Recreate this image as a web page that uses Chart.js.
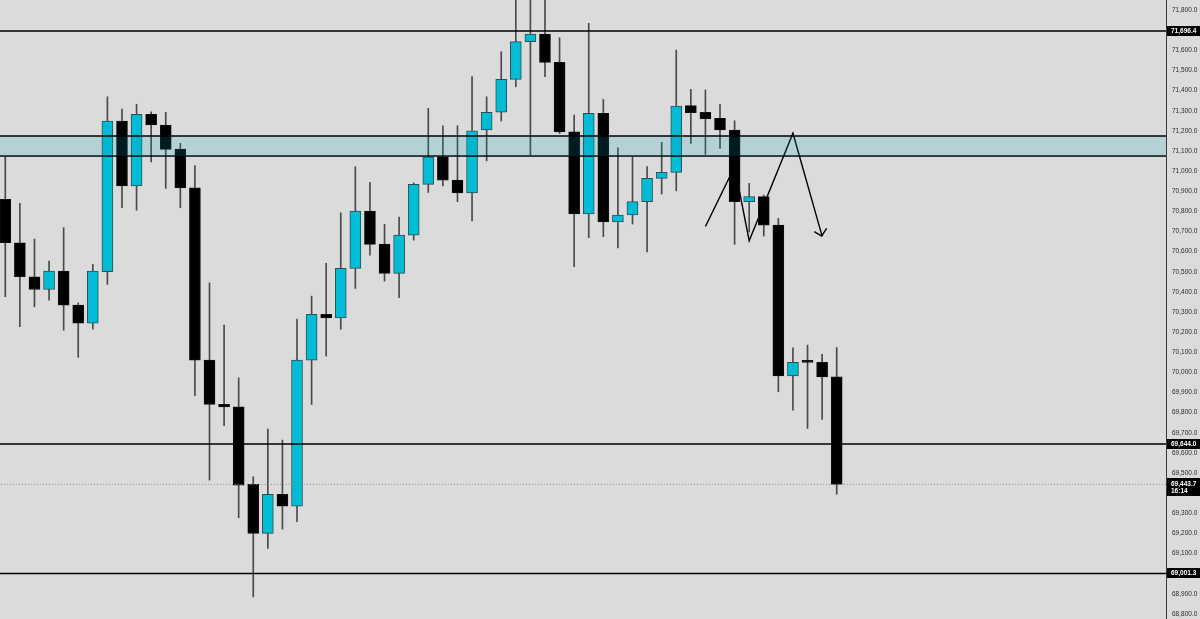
<!DOCTYPE html>
<html>
<head>
<meta charset="utf-8">
<script src="https://cdn.jsdelivr.net/npm/chart.js@4.4.1/dist/chart.umd.min.js"></script>
<style>
    html, body { margin: 0; padding: 0; background: #dbdbdb; }
    #wrap { width: 1200px; height: 619px; }
</style>
</head>
<body>
<div id="wrap"><canvas id="myChart" width="1200" height="619"></canvas></div>
<script>
// candle values (one entry per candle, left to right)
const opens = [70860, 70644, 70475, 70412, 70503, 70334, 70244, 70500, 71249, 70927,
    71282, 71229, 71109, 70917, 70061, 69841, 69829, 69444, 69200, 69394,
    69336, 70061, 70288, 70271, 70517, 70801, 70637, 70492, 70682, 70934,
    71071, 70955, 70892, 71204, 71293, 71456, 71643, 71681, 71540, 71195,
    70787, 71287, 70748, 70782, 70848, 70964, 70994, 71325, 71292, 71262,
    71204, 70848, 70873, 70732, 69982, 70053, 70050, 69978];
const highs = [71071, 70840, 70662, 70553, 70719, 70346, 70537, 71369, 71308, 71332,
    71295, 71292, 71138, 71027, 70445, 70235, 69973, 69482, 69718, 69664,
    70265, 70379, 70542, 70793, 71022, 70944, 70735, 70772, 70942, 71312,
    71225, 71225, 71469, 71369, 71593, 71900, 71900, 71900, 71662, 71278,
    71734, 71356, 71116, 71071, 71022, 71143, 71601, 71406, 71403, 71332,
    71250, 70939, 70881, 70765, 70122, 70136, 70090, 70124];
const lows = [70376, 70227, 70326, 70359, 70210, 70075, 70215, 70437, 70818, 70806,
    71046, 70914, 70818, 69884, 69465, 69735, 69278, 68885, 69126, 69222,
    69258, 69841, 70081, 70214, 70417, 70583, 70454, 70371, 70657, 70894,
    70926, 70848, 70752, 71051, 71249, 71419, 71080, 71469, 71187, 70525,
    70669, 70674, 70619, 70737, 70599, 70886, 70902, 71138, 71083, 71113,
    70636, 70697, 70677, 69904, 69813, 69722, 69767, 69395];
const closes = [70644, 70475, 70412, 70503, 70334, 70244, 70503, 71249, 70927, 71282,
    71229, 71108, 70917, 70061, 69841, 69829, 69440, 69200, 69394, 69336,
    70061, 70288, 70271, 70517, 70801, 70636, 70492, 70682, 70934, 71071,
    70955, 70892, 71200, 71292, 71456, 71643, 71681, 71540, 71195, 70787,
    71287, 70748, 70782, 70848, 70964, 70994, 71323, 71290, 71259, 71204,
    70848, 70873, 70732, 69982, 70050, 70050, 69978, 69443.7];

// horizontal levels and the supply zone
const levels = [71696.4, 69644.0, 69001.3];
const zone = [71075, 71174];
const lastPrice = 69443.7;
const lastTime = '16:14';

// hand drawn zigzag + arrow head (candle index, price)
const zigX = [48, 50, 51, 54, 56];
const zigY = [70725, 71022, 70654, 71188, 70677];
const arrowX = [55.46, 55.97, 56.31];
const arrowY = [70699, 70677, 70716];

const X_MIN = -0.363;
const X_MAX = 79.576;

const bull = '#00bcd4';
const bear = '#000000';

function fmt(v) {
    return v.toLocaleString('en-US', { minimumFractionDigits: 1, maximumFractionDigits: 1 });
}

var wicks = [];
var bodies = [];
var bodyColors = [];
var bodyBorders = [];
opens.forEach((o, i) => {
    wicks.push({ x: i, y: [lows[i], highs[i]] });
    bodies.push({ x: i, y: [o, closes[i]] });
    bodyColors.push(closes[i] >= o ? bull : bear);
    bodyBorders.push(closes[i] >= o ? '#2f4f55' : '#111111');
});

function flatLine(v) {
    return [{ x: X_MIN - 2, y: v }, { x: X_MAX + 2, y: v }];
}

var datasets = [];

// zone (fill between its two borders, drawn over the candles)
datasets.push({
    type: 'line', data: flatLine(zone[1]), borderColor: '#000', borderWidth: 1.5,
    pointRadius: 0, pointHoverRadius: 0, fill: '+1', backgroundColor: 'rgba(0, 161, 184, 0.17)', order: 0
});
datasets.push({
    type: 'line', data: flatLine(zone[0]), borderColor: '#000', borderWidth: 1.5,
    pointRadius: 0, pointHoverRadius: 0, fill: false, order: 0
});

levels.forEach(v => {
    datasets.push({
        type: 'line', data: flatLine(v), borderColor: '#000', borderWidth: 1.5,
        pointRadius: 0, pointHoverRadius: 0, fill: false, order: 0
    });
});

datasets.push({
    type: 'line', data: flatLine(lastPrice), borderColor: '#8a8a8a', borderWidth: 1,
    borderDash: [1, 2], pointRadius: 0, pointHoverRadius: 0, fill: false, order: 0
});

datasets.push({
    type: 'bar', data: bodies, backgroundColor: bodyColors, borderColor: bodyBorders,
    borderWidth: 1, borderSkipped: false, barThickness: 11, minBarLength: 2,
    grouped: false, order: 1
});
datasets.push({
    type: 'bar', data: wicks, backgroundColor: '#4a4a4a', borderWidth: 0,
    barThickness: 1, grouped: false, order: 2
});

datasets.push({
    type: 'line', data: zigX.map((x, i) => ({ x: x, y: zigY[i] })), borderColor: '#000',
    borderWidth: 1.4, pointRadius: 0, pointHoverRadius: 0, tension: 0, fill: false, order: 3
});
datasets.push({
    type: 'line', data: arrowX.map((x, i) => ({ x: x, y: arrowY[i] })), borderColor: '#000',
    borderWidth: 1.4, pointRadius: 0, pointHoverRadius: 0, tension: 0, fill: false, order: 3
});

// black price tags on the right scale
const priceTags = {
    id: 'priceTags',
    afterDraw(chart) {
        const c = chart.ctx;
        const y = chart.scales.y;
        const left = chart.chartArea.right + 1;
        const w = chart.width - left;
        c.save();
        c.font = 'bold 6.5px "Liberation Sans", Arial, sans-serif';
        c.textBaseline = 'middle';
        c.textAlign = 'left';
        levels.forEach(v => {
            const py = Math.round(y.getPixelForValue(v));
            c.fillStyle = '#000';
            c.fillRect(left, py - 5, w, 10);
            c.fillStyle = '#fff';
            c.fillText(fmt(v), left + 4, py);
        });
        const py = Math.round(y.getPixelForValue(lastPrice));
        c.fillStyle = '#000';
        c.fillRect(left, py - 6, w, 18);
        c.fillStyle = '#fff';
        c.fillText(fmt(lastPrice), left + 4, py);
        c.fillText(lastTime, left + 4, py + 7);
        c.restore();
    }
};

const ctx = document.getElementById('myChart').getContext('2d');
var chart = new Chart(ctx, {
    type: 'bar',
    data: { datasets: datasets },
    options: {
        responsive: false,
        animation: false,
        devicePixelRatio: 1,
        layout: { padding: 0, autoPadding: false },
        plugins: { legend: { display: false }, tooltip: { enabled: false } },
        scales: {
            x: {
                type: 'linear', display: false, offset: false,
                min: X_MIN, max: X_MAX,
                grid: { display: false, offset: false }
            },
            y: {
                position: 'right', min: 68775, max: 71850,
                grid: { display: false, drawTicks: false },
                border: { display: true, color: '#3a3a3a', width: 1 },
                afterFit: scale => {
                    scale.width = 34;
                    scale.paddingTop = 0;
                    scale.paddingBottom = 0;
                },
                ticks: {
                    stepSize: 100, includeBounds: false, padding: 6,
                    color: '#2a2a2a',
                    font: { size: 6.5, family: '"Liberation Sans", Arial, sans-serif' },
                    callback: v => fmt(v)
                }
            }
        }
    },
    plugins: [priceTags]
});
</script>
</body>
</html>
